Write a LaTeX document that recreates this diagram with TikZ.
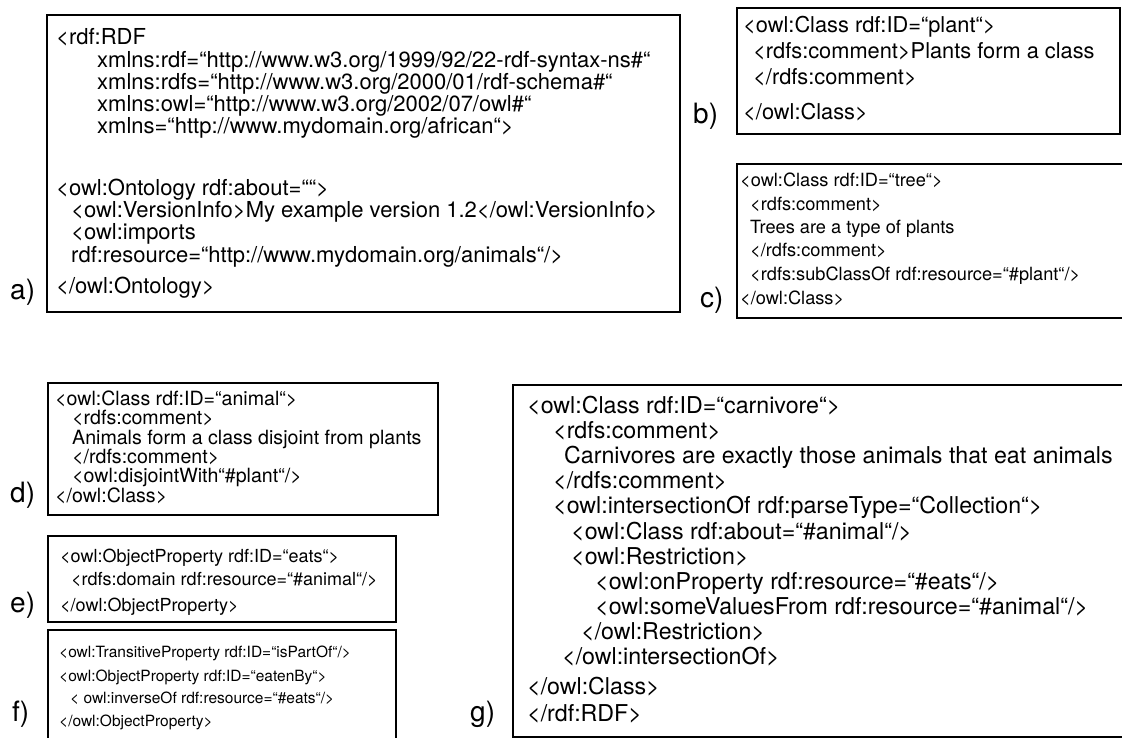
\documentclass[tikz,border=0pt]{standalone}
\usepackage{fontspec}
\setmainfont{TeX Gyre Heros}
\begin{document}
\begin{tikzpicture}[x=1pt,y=-1pt]
\useasboundingbox (0,0) rectangle (1122,738);
\tikzset{
  panel/.style={draw=black,line width=1.4pt},
  code/.style={anchor=base west,inner sep=0pt,font=\fontsize{#1}{#1}\selectfont},
  lab/.style={anchor=base west,inner sep=0pt,font=\fontsize{28}{28}\selectfont}
}
% panel a
\draw[panel] (47,15) rectangle (680,312);
\node[lab] (la) at (10,299) {a)};
\node[code=22] (a1) at (56,45) {<rdf:RDF};
\node[code=22] (a2) at (97,68) {xmlns:rdf=“http://www.w3.org/1999/92/22-rdf-syntax-ns\#“};
\node[code=22] (a3) at (97,90) {xmlns:rdfs=“http://www.w3.org/2000/01/rdf-schema\#“};
\node[code=22] (a4) at (97,112) {xmlns:owl=“http://www.w3.org/2002/07/owl\#“};
\node[code=22] (a5) at (97,134) {xmlns=“http://www.mydomain.org/african“>};
\node[code=22] (a6) at (56,196) {<owl:Ontology rdf:about=““>};
\node[code=22] (a7) at (71,218) {<owl:VersionInfo>My example version 1.2</owl:VersionInfo>};
\node[code=22] (a8) at (71,240) {<owl:imports};
\node[code=22] (a9) at (71,262) {rdf:resource=“http://www.mydomain.org/animals“/>};
\node[code=22] (a10) at (56,293) {</owl:Ontology>};
% panel b
\draw[panel] (737,8) rectangle (1120,134);
\node[lab] (lb) at (693,124) {b)};
\node[code=21.8] (b1) at (743,33) {<owl:Class rdf:ID=“plant“>};
\node[code=21.8] (b2) at (753,59) {<rdfs:comment>Plants form a class};
\node[code=21.8] (b3) at (753,85) {</rdfs:comment>};
\node[code=21.8] (b4) at (743,120) {</owl:Class>};
% panel c
\draw[panel] (737,164) rectangle (1130,318);
\node[lab] (lc) at (700,307) {c)};
\node[code=18.2] (c1) at (740,187) {<owl:Class rdf:ID=“tree“>};
\node[code=18.2] (c2) at (750,211) {<rdfs:comment>};
\node[code=18.2] (c3) at (750,234) {Trees are a type of plants};
\node[code=18.2] (c4) at (750,257) {</rdfs:comment>};
\node[code=18.2] (c5) at (750,280) {<rdfs:subClassOf rdf:resource=“\#plant“/>};
\node[code=18.2] (c6) at (740,305) {</owl:Class>};
% panel d
\draw[panel] (48,383) rectangle (438,515);
\node[lab] (ld) at (10,502) {d)};
\node[code=19.6] (d1) at (55,405) {<owl:Class rdf:ID=“animal“>};
\node[code=19.6] (d2) at (72,424) {<rdfs:comment>};
\node[code=19.6] (d3) at (72,444) {Animals form a class disjoint from plants};
\node[code=19.6] (d4) at (72,463) {</rdfs:comment>};
\node[code=19.6] (d5) at (72,482) {<owl:disjointWith“\#plant“/>};
\node[code=19.6] (d6) at (55,502) {</owl:Class>};
% panel e
\draw[panel] (48,536) rectangle (396,622);
\node[lab] (le) at (10,612) {e)};
\node[code=18] (e1) at (60,562) {<owl:ObjectProperty rdf:ID=“eats“>};
\node[code=18] (e2) at (71,585) {<rdfs:domain rdf:resource=“\#animal“/>};
\node[code=18] (e3) at (60,611) {</owl:ObjectProperty>};
% panel f
\draw[panel] (48,630) rectangle (396,745);
\node[lab] (lf) at (12,721) {f)};
\node[code=15.5] (f1) at (59,657) {<owl:TransitiveProperty rdf:ID=“isPartOf“/>};
\node[code=15.5] (f2) at (59,681) {<owl:ObjectProperty rdf:ID=“eatenBy“>};
\node[code=15.5] (f3) at (70,703) {< owl:inverseOf rdf:resource=“\#eats“/>};
\node[code=15.5] (f4) at (59,726) {</owl:ObjectProperty>};
% panel g
\draw[panel] (513,385) rectangle (1130,737);
\node[lab] (lg) at (470,721) {g)};
\node[code=23.2] (g1) at (527,413) {<owl:Class rdf:ID=“carnivore“>};
\node[code=23.2] (g2) at (553,438) {<rdfs:comment>};
\node[code=23.2] (g3) at (564,463) {Carnivores are exactly those animals that eat animals};
\node[code=23.2] (g4) at (553,488) {</rdfs:comment>};
\node[code=23.2] (g5) at (553,513) {<owl:intersectionOf rdf:parseType=“Collection“>};
\node[code=23.2] (g6) at (571,539) {<owl:Class rdf:about=“\#animal“/>};
\node[code=23.2] (g7) at (571,564) {<owl:Restriction>};
\node[code=23.2] (g8) at (595,589) {<owl:onProperty rdf:resource=“\#eats“/>};
\node[code=23.2] (g9) at (595,614) {<owl:someValuesFrom rdf:resource=“\#animal“/>};
\node[code=23.2] (g10) at (581,639) {</owl:Restriction>};
\node[code=23.2] (g11) at (562,664) {</owl:intersectionOf>};
\node[code=23.2] (g12) at (527,694) {</owl:Class>};
\node[code=23.2] (g13) at (527,721) {</rdf:RDF>};
\end{tikzpicture}
\end{document}
